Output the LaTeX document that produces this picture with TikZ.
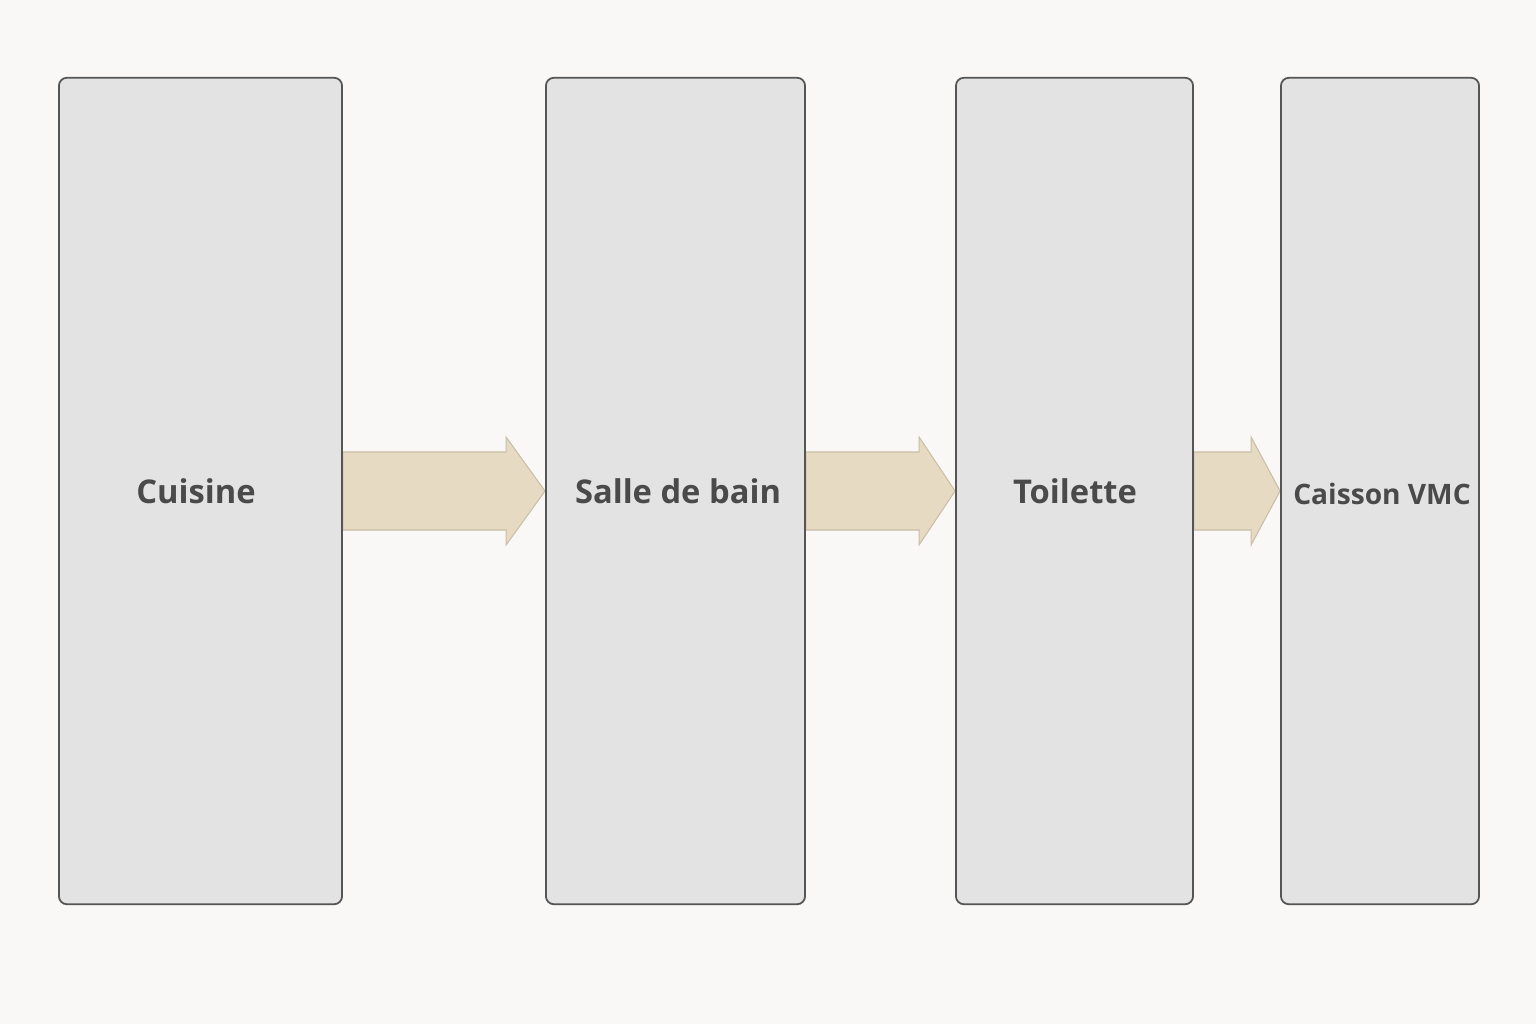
\documentclass[tikz,border=0pt]{standalone}
\usepackage{fontspec}
\setmainfont{Open Sans}
\usetikzlibrary{calc,backgrounds}
\definecolor{bgpaper}{HTML}{F9F8F6}
\definecolor{roomfill}{HTML}{E3E3E3}
\definecolor{roomline}{HTML}{555555}
\definecolor{airfill}{HTML}{E6DAC3}
\definecolor{airline}{HTML}{C9BEA6}
\definecolor{labeltext}{HTML}{4A4A4A}

% air flow arrow from the east side of #1 to the west side of #2, head length #3 (px)
\newcommand{\airflow}[3]{%
  \filldraw[air] ($(#1.east)+(0,39)$) -- ($(#2.west)+(-#3,39)$) -- ($(#2.west)+(-#3,54)$)
    -- (#2.west) -- ($(#2.west)+(-#3,-54)$) -- ($(#2.west)+(-#3,-39)$)
    -- ($(#1.east)+(0,-39)$) -- cycle;}

\begin{document}
\begin{tikzpicture}[x=0.01cm, y=-0.01cm,
  room/.style={draw=roomline, fill=roomfill, line width=0.5pt, rounded corners=0.08cm,
    minimum height=8.26cm, inner sep=0pt},
  lbl/.style={font=\bfseries\fontsize{9.3}{11}\selectfont, text=labeltext},
  air/.style={fill=airfill, draw=airline, line width=0.3pt}]
\path
(200.5,491)  node[room, minimum width=2.83cm] (cuisine) {}
(196,491)    node[lbl] (cuisinelbl) {Cuisine}
(675.5,491)  node[room, minimum width=2.59cm] (bain) {}
(678,491)    node[lbl] (bainlbl) {Salle de bain}
(1074.5,491) node[room, minimum width=2.37cm] (toilette) {}
(1075,491)   node[lbl] (toilettelbl) {Toilette}
(1380,491)   node[room, minimum width=1.98cm] (vmc) {}
(1382,494)   node[lbl, font=\bfseries\fontsize{8}{10}\selectfont] (vmclbl) {Caisson VMC};

\begin{scope}[on background layer]
\fill[bgpaper] (0,0) rectangle (1536,1024);
\airflow{cuisine}{bain}{39}
\airflow{bain}{toilette}{36}
\airflow{toilette}{vmc}{29}
\end{scope}
\end{tikzpicture}
\end{document}
